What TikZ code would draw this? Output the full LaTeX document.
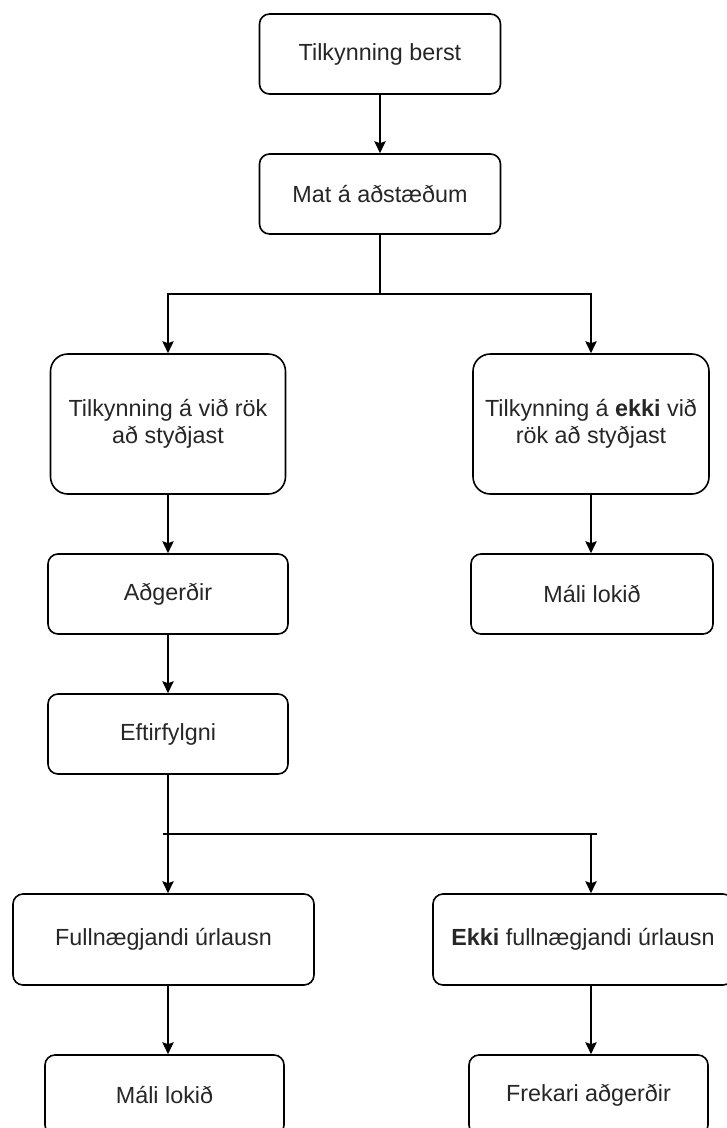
\documentclass[tikz,border=0pt]{standalone}
\usepackage{fontspec}
\setmainfont{Liberation Sans}
\usetikzlibrary{arrows.meta}

\tikzset{
  box/.style={draw, line width=1.2pt, rounded corners=7.5pt, align=center,
    inner sep=0pt, text=black!85,
    font=\fontsize{17.5pt}{19.5pt}\selectfont},
  tallbox/.style={box, rounded corners=13pt},
  line/.style={line width=1.2pt},
  arrow/.style={line, -{Stealth[length=9pt,width=8.5pt,inset=1.5pt]}}
}

\begin{document}
\begin{tikzpicture}[x=0.75pt,y=-0.75pt]
    \useasboundingbox (0,0) rectangle (726,1128);

    % top of the flow
    \node[box, minimum width=180.75pt, minimum height=60pt] (Tilkynning) at (380,54) {Tilkynning berst};
    \node[box, minimum width=180.75pt, minimum height=60pt] (Mat) at (380,194) {Mat á aðstæðum};

    % first split
    \coordinate (SplitTop) at (380,294);
    \node[tallbox, minimum width=176.25pt, minimum height=105pt] (Studd) at (168,424)
      {Tilkynning á við rök\\[1pt]að styðjast};
    \node[tallbox, minimum width=177pt, minimum height=105pt] (EkkiStudd) at (591,424)
      {Tilkynning á \textbf{ekki} við\\[1pt]rök að styðjast};

    \node[box, minimum width=180pt, minimum height=60pt] (Adgerdir) at (168,594) {Aðgerðir};
    \node[box, minimum width=181.5pt, minimum height=60pt] (MaliA) at (592,594) {Máli lokið};
    \node[box, minimum width=180pt, minimum height=60pt] (Eftir) at (168,734) {Eftirfylgni};

    % second split
    \coordinate (SplitL) at (163,834);
    \coordinate (SplitR) at (597,834);
    \coordinate (DropR)  at (591,834);
    \node[box, minimum width=225.75pt, minimum height=68.25pt] (Full) at (163.5,939.5) {Fullnægjandi úrlausn};
    \node[box, minimum width=225pt, minimum height=68.25pt] (EkkiFull) at (583,939.5)
      {\textbf{Ekki} fullnægjandi úrlausn};

    \node[box, minimum width=179.25pt, minimum height=60pt] (MaliB) at (164.5,1095) {Máli lokið};
    \node[box, minimum width=179.25pt, minimum height=60pt] (Frekari) at (588.5,1095) {Frekari aðgerðir};

    % connectors
    \draw[arrow] (Tilkynning) -- (Mat);
    \draw[line] (Mat) -- (SplitTop);
    \draw[arrow] (SplitTop) -| (Studd);
    \draw[arrow] (SplitTop) -| (EkkiStudd);
    \draw[arrow] (Studd) -- (Adgerdir);
    \draw[arrow] (EkkiStudd) -- (EkkiStudd |- MaliA.north);
    \draw[arrow] (Adgerdir) -- (Eftir);
    \draw[arrow] (Eftir) -- (Eftir |- Full.north);
    \draw[line] (SplitL) -- (SplitR);
    \draw[arrow] (DropR) -- (DropR |- EkkiFull.north);
    \draw[arrow] (Eftir |- Full.south) -- (Eftir |- MaliB.north);
    \draw[arrow] (DropR |- EkkiFull.south) -- (DropR |- Frekari.north);
\end{tikzpicture}
\end{document}
